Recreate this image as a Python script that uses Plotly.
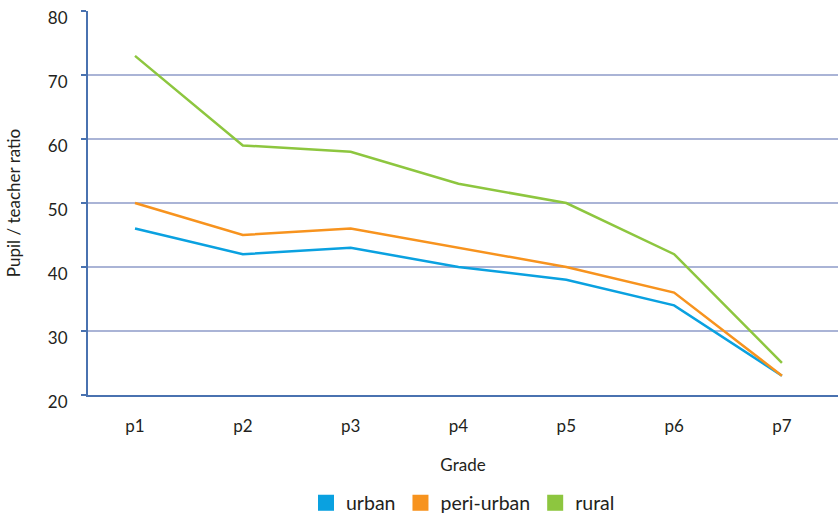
import plotly.graph_objects as go

grades = ["p1", "p2", "p3", "p4", "p5", "p6", "p7"]
urban = [46, 42, 43, 40, 38, 34, 23]
peri_urban = [50, 45, 46, 43, 40, 36, 23]
rural = [73, 59, 58, 53, 50, 42, 25]
y_ticks = [20, 30, 40, 50, 60, 70, 80]

series = [
    ("urban", urban, "#0aa1e0"),
    ("peri-urban", peri_urban, "#f7931e"),
    ("rural", rural, "#8dc63f"),
]

xs = list(range(len(grades)))
fig = go.Figure()
for name, vals, col in series:
    fig.add_trace(go.Scatter(x=xs, y=vals, mode="lines", name=name,
                             line=dict(color=col, width=2.5), showlegend=False))
for name, vals, col in series:
    fig.add_trace(go.Scatter(x=[None], y=[None], mode="markers", name=name,
                             marker=dict(symbol="square", size=22, color=col)))

font = "Lato, Open Sans, sans-serif"
fig.update_layout(
    width=838, height=516,
    margin=dict(l=88, r=0, t=11, b=121),
    plot_bgcolor="white", paper_bgcolor="white",
    font=dict(family=font, size=17, color="#231f20"),
    showlegend=True,
    legend=dict(orientation="h", xref="paper", x=0.5, xanchor="center",
                yref="container", y=0.025, yanchor="middle",
                font=dict(size=19.5), itemwidth=30, tracegroupgap=0),
    xaxis=dict(range=[-0.436, 6.52], tickmode="array", tickvals=xs, ticktext=grades,
               showgrid=False, zeroline=False, showline=True, linecolor="#4a72b0",
               linewidth=2, ticks="", ticklabelstandoff=15, automargin=False,
               title=dict(text="Grade", standoff=24, font=dict(size=17))),
    yaxis=dict(range=[19.98, 80.02], tickmode="array", tickvals=y_ticks,
               showgrid=True, gridcolor="#aab4d6", gridwidth=1.5, zeroline=False,
               showline=True, linecolor="#4a72b0", linewidth=2,
               ticks="outside", ticklen=5, tickcolor="#4a72b0", tickwidth=2,
               ticklabelstandoff=10, ticklabelshift=7, ticklabeloverflow="allow",
               automargin=False,
               title=dict(text="Pupil / teacher ratio", standoff=23, font=dict(size=17))),
)

fig.write_html("out.html", config={"displayModeBar": False},
               post_script="document.body.style.margin='0';document.body.style.overflow='hidden';")
